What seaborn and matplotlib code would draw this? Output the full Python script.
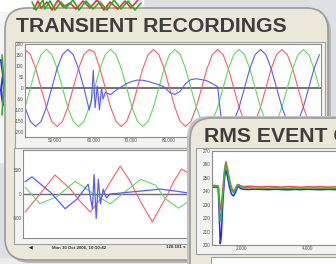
import numpy as np
import matplotlib
matplotlib.use("Agg")
import matplotlib.pyplot as plt
from matplotlib.patches import FancyBboxPatch, Rectangle
import seaborn as sns

sns.set_style("white")
plt.rcParams['font.family'] = ['Liberation Sans', 'DejaVu Sans']

# ---- transient recording (voltage), sample index, 12 samples per cycle
top_t = np.arange(56)
top_red = [175, 152, 88, 0, -88, -152, -175, -152, -88, 0, 88, 152,
           175, 162, 88, 0, -88, -152, -175, -152, -88, 0, 88, 152,
           175, 152, 88, 0, -88, -152, -175, -152, -88, 0, 88, 152,
           175, 152, 88, 0, -88, -152, -175, -152, -88, 0, 88, 152,
           175, 152, 88, 0, -88, -152, -175, -152]
top_green = [-88, 0, 88, 152, 175, 152, 88, 0, -88, -152, -175, -152,
             -88, 0, 88, 152, 175, 152, 88, 0, -88, -152, -175, -152,
             -88, 0, 88, 152, 175, 152, 88, 0, -88, -152, -175, -152,
             -88, 0, 88, 152, 175, 152, 88, 0, -88, -152, -175, -152,
             -88, 0, 88, 152, 175, 152, 88, 0]
top_blue_t = [0, 1, 2, 3, 4, 5, 6, 7, 8, 9, 10, 11, 12,
              12.4, 12.75, 13.1, 13.5, 13.9, 14.3, 14.6, 15, 16, 17, 18, 19, 20,
              21, 22, 23, 24, 25, 26, 27, 28, 29, 30, 31, 32, 33, 34, 35, 36, 36.6,
              37, 38, 39, 40, 41, 42, 43, 44, 45, 46, 47, 48, 49, 50, 51, 52, 53, 54, 55]
top_blue = [-88, -152, -175, -152, -88, 0, 88, 152, 175, 152, 88, 0, -100,
            -60, 80, -90, 10, -100, 0, -50, -20, -30, -10, 5, 20, 30,
            36, 35, 30, 22, 15, 5, -20, -30, -15, 20, 38, 42, 38, 32, 20, 5, -130,
            -152, -175, -152, -88, 0, 88, 152, 175, 152, 88, 0, -88, -152, -175,
            -152, -88, 0, 88, 152]
top_yticks = [200, 150, 100, 50, 0, -50, -100, -150, -200]
top_xticks = [5.6, 12.75, 19.7, 26.8]
top_xlabels = ["50.000", "60.000", "70.000", "80.000"]

# ---- transient recording (current)
bot_red_t = [0, 2.8, 5.6, 8.4, 10.3, 12.2, 14.1, 15.9, 17.8, 19.7, 21.6, 23.8,
             25.3, 26.6, 27.75, 29.25, 30.2, 31.9, 34]
bot_red = [-370, 0, 390, 110, -150, -370, -100, 240, 570, 250, -160, -570,
           -270, -20, 250, 510, 450, 250, -100]
bot_green_t = [0, 2.8, 6, 9.4, 12.6, 15.9, 18.75, 21.6, 24.4, 26.25, 28.7, 30.6, 32, 34]
bot_green = [140, -200, -50, 260, 20, -200, 50, 300, 180, -100, -290, -150, 0, 150]
bot_blue_t = [0, 1.3, 4.7, 7.5, 9.75, 11.8, 12.6, 12.9, 13.3, 13.7, 14.1, 14.6,
              15.2, 15.9, 17.8, 21.6, 25.3, 28.1, 30.6, 32, 34]
bot_blue = [250, 350, 40, -300, -100, 200, -300, 400, -500, 300, -200, 100,
            -80, 0, 20, 60, 100, 60, 20, 0, -20]
bot_yticks = [500, 0, -500]

# ---- RMS event capture
rms_t = [1.09, 1.2, 1.28, 1.31, 1.34, 1.37, 1.42, 1.47, 1.51, 1.56,
         1.62, 1.68, 1.74, 1.8, 1.86, 1.9, 1.96, 2.05, 2.2, 2.4,
         2.6, 2.8, 3.0, 3.2, 3.4, 3.6, 3.8, 4.0, 4.2, 4.4,
         4.6, 4.8, 5.0, 5.2, 5.5]
rms_red = [244.5, 244.3, 244, 236, 226, 228, 242, 256, 262, 257,
           249, 243, 240, 242, 245, 245, 244, 243.5, 243.8, 243.5,
           243.2, 243.6, 243.4, 243.1, 243.5, 243.3, 243, 243.4, 243.2, 243.5,
           243.1, 243.3, 243.4, 243.2, 243.3]
rms_green = [243.5, 243.6, 243.2, 230, 218, 222, 238, 254, 260, 255,
             247, 241, 239, 241, 244.5, 244.5, 243.5, 242.5, 242.6, 242.3,
             242.5, 242.2, 242.6, 242.4, 242.1, 242.5, 242.3, 242.2, 242.5, 242.3,
             242.4, 242.2, 242.5, 242.3, 242.4]
rms_blue = [243, 243.1, 242.8, 222, 201, 206, 232, 250, 256, 251,
            243, 238, 236.5, 239, 243, 243.5, 242, 241.5, 241.3, 241.6,
            241.4, 241.2, 241.5, 241.3, 241.1, 241.4, 241.2, 241.5, 241.3, 241.2,
            241.4, 241.3, 241.1, 241.4, 241.2]
rms_yticks = [270, 260, 250, 240, 230, 220, 210, 200]
rms_xticks = [2, 4]
rms_xlabels = ["2.000", "4.000"]

# background scribbles (screenshot behind the panels)
bgr_x = [34, 38, 41, 47, 52, 58, 63, 70, 76, 83, 90, 97, 104, 110, 118, 125, 131, 138]
bgr_y = [9, 1, 8, 2, 10, 0, 7, 3, 9, 1, 8, 0, 10, 2, 9, 1, 8, 0]
bgg_x = [32, 36, 43, 45, 50, 55, 61, 66, 73, 79, 86, 93, 100, 107, 114, 121, 128, 135, 141]
bgg_y = [2, 10, 0, 9, 1, 10, 2, 8, 0, 10, 1, 9, 2, 10, 0, 9, 1, 10, 3]

W, H = 336, 264
BEIGE = "#ebe8d9"
RED, GREEN, BLUE = "#ff5a6a", "#5cdc5c", "#5a5aff"


def rect(x0, y0, x1, y1):
    return [x0 / W, 1 - y1 / H, (x1 - x0) / W, (y1 - y0) / H]


def style_axes(ax):
    ax.set_facecolor("white")
    for s in ax.spines.values():
        s.set_color("#8c8c8c")
        s.set_linewidth(0.8)
    ax.tick_params(length=0, pad=1, labelsize=3.3, colors="#505050")


fig = plt.figure(figsize=(3.36, 2.64), dpi=100)

# background layer
bg = fig.add_axes([0, 0, 1, 1], zorder=0)
bg.set_xlim(0, W)
bg.set_ylim(H, 0)
bg.axis("off")
bg.add_patch(Rectangle((0, 0), W, H, color="#dde0e4"))
bg.add_patch(Rectangle((0, 0), 143, 12, color="white"))
bg.add_patch(Rectangle((0, 12), 8, 150, color="#f4f4f4"))
bg.add_patch(Rectangle((0, 258), W, 6, color="#ececec"))
bg.plot(bgr_x, bgr_y, color="#e83030", lw=1.2)
bg.plot(bgg_x, bgg_y, color="#20b020", lw=1.2)
bg.plot([1, 3, 1, 3], [60, 75, 90, 105], color="#3030e0", lw=1.5)
bg.plot([2, 4, 2], [55, 85, 115], color="#30b030", lw=1.2)

# transient panel
bg.add_patch(FancyBboxPatch((8, 11), 323, 252, boxstyle="round,pad=0,rounding_size=22",
                            facecolor="#b5b5b5", edgecolor="none"))
bg.add_patch(FancyBboxPatch((5, 8), 323, 252, boxstyle="round,pad=0,rounding_size=22",
                            facecolor=BEIGE, edgecolor="#9a9a9a", lw=1.2))
bg.text(16, 27, "TRANSIENT RECORDINGS", fontsize=15.3, fontweight="bold",
        color="#3e3e3e", va="center", ha="left")
bg.add_patch(Rectangle((15, 42), 310, 106, facecolor="#f3f3f1", edgecolor="#a0a0a0", lw=0.8))
bg.add_patch(Rectangle((14, 148), 312, 96, facecolor="#f3f3f1", edgecolor="#a0a0a0", lw=0.8))
bg.text(29, 247, "\u25c0", fontsize=3.5, color="#202020", va="center")
bg.text(52, 247, "Mon 30 Oct 2006, 10:10:42", fontsize=3.2, fontweight="bold",
        color="#303030", va="center")
bg.text(166, 247, "120.181 s", fontsize=3.2, fontweight="bold", color="#303030", va="center")

# voltage plot
ax1 = fig.add_axes(rect(25, 44, 321, 137), zorder=1)
style_axes(ax1)
ax1.axhline(0, color="#5a5a5a", lw=1.2, zorder=1)
sns.lineplot(x=top_t, y=top_red, ax=ax1, color=RED, lw=0.8, sort=False, estimator=None, legend=False)
sns.lineplot(x=top_t, y=top_green, ax=ax1, color=GREEN, lw=0.8, sort=False, estimator=None, legend=False)
sns.lineplot(x=top_blue_t, y=top_blue, ax=ax1, color=BLUE, lw=0.8, sort=False, estimator=None, legend=False)
ax1.set_xlim(0, 55.3)
ax1.set_ylim(-223, 200)
ax1.set_yticks(top_yticks)
ax1.set_yticklabels([str(v) for v in top_yticks])
ax1.set_xticks(top_xticks)
ax1.set_xticklabels(top_xlabels)
ax1.set_xlabel("")
ax1.set_ylabel("")

# current plot
ax2 = fig.add_axes(rect(23, 150, 321, 238), zorder=1)
style_axes(ax2)
ax2.axhline(0, color="#6a6a7a", lw=1.0, zorder=1)
sns.lineplot(x=bot_red_t, y=bot_red, ax=ax2, color=RED, lw=0.8, sort=False, estimator=None, legend=False)
sns.lineplot(x=bot_green_t, y=bot_green, ax=ax2, color=GREEN, lw=0.8, sort=False, estimator=None, legend=False)
sns.lineplot(x=bot_blue_t, y=bot_blue, ax=ax2, color=BLUE, lw=0.9, sort=False, estimator=None, legend=False)
ax2.set_xlim(-0.375, 55.3)
ax2.set_ylim(-900, 900)
ax2.set_yticks(bot_yticks)
ax2.set_yticklabels([str(v) for v in bot_yticks])
ax2.set_xticks([])
ax2.set_xlabel("")
ax2.set_ylabel("")

# RMS panel overlay
ov = fig.add_axes([0, 0, 1, 1], zorder=5)
ov.set_xlim(0, W)
ov.set_ylim(H, 0)
ov.axis("off")
ov.patch.set_visible(False)
ov.add_patch(FancyBboxPatch((187, 116), 220, 200, boxstyle="round,pad=0,rounding_size=22",
                            facecolor="#c4c4c4", edgecolor="none"))
ov.add_patch(FancyBboxPatch((190, 118), 220, 200, boxstyle="round,pad=0,rounding_size=22",
                            facecolor=BEIGE, edgecolor="#9a9a9a", lw=1.2))
ov.text(204, 136, "RMS EVENT CAPTURE", fontsize=15.3, fontweight="bold",
        color="#3e3e3e", va="center", ha="left")
ov.add_patch(Rectangle((196, 148), 200, 106, facecolor="#f3f3f1", edgecolor="#a0a0a0", lw=0.8))
ov.add_patch(Rectangle((211, 257), 200, 20, facecolor="white", edgecolor="#a0a0a0", lw=0.8))

ax3 = fig.add_axes(rect(212, 151, 360, 245), zorder=6)
style_axes(ax3)
sns.lineplot(x=rms_t, y=rms_red, ax=ax3, color="#ff4848", lw=1.1, sort=False, estimator=None, legend=False)
sns.lineplot(x=rms_t, y=rms_blue, ax=ax3, color="#2828ff", lw=1.1, sort=False, estimator=None, legend=False)
sns.lineplot(x=rms_t, y=rms_green, ax=ax3, color="#28c028", lw=1.1, sort=False, estimator=None, legend=False)
ax3.set_xlim(1.09, 5.58)
ax3.set_ylim(200, 270)
ax3.set_yticks(rms_yticks)
ax3.set_yticklabels([str(v) for v in rms_yticks])
ax3.set_xticks(rms_xticks)
ax3.set_xticklabels(rms_xlabels)
ax3.set_xlabel("")
ax3.set_ylabel("")

fig.savefig("out.png", dpi=100)
